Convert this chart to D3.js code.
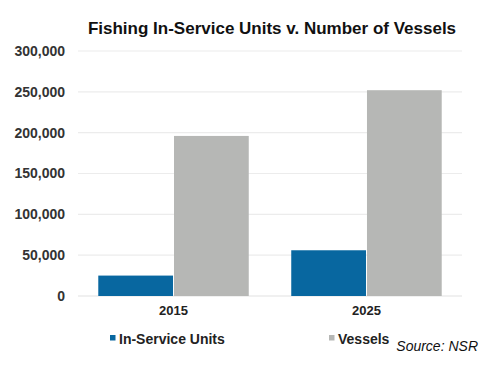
<!DOCTYPE html>
<html>
<head>
<meta charset="utf-8">
<script src="https://cdn.jsdelivr.net/npm/d3@7"></script>
<style>
  body { margin: 0; background: #fff; }
  text { font-family: "Liberation Sans", Arial, sans-serif; }
</style>
</head>
<body>
<div id="chart"></div>
<script>
// chart data
const years = ['2015', '2025'];
const seriesNames = ['In-Service Units', 'Vessels'];
const inServiceUnits = [25000, 56000];
const vessels = [196000, 252000];
const yTicks = [0, 50000, 100000, 150000, 200000, 250000, 300000];

const colors = ['#0867a0', '#b6b7b5'];
const width = 504, height = 369;
const margin = {top: 51, right: 42, bottom: 73, left: 78};

const rows = years.map((y, i) => ({year: y, values: [inServiceUnits[i], vessels[i]]}));

const svg = d3.select('#chart')
    .append('svg')
    .attr('width', width)
    .attr('height', height);

let x0 = d3.scaleBand()
    .domain(years)
    .range([margin.left, width - margin.right])
    .paddingInner(0.21)
    .paddingOuter(0.1);

let x1 = d3.scaleBand()
    .domain(seriesNames)
    .range([0, x0.bandwidth()])
    .padding(0.013);

let y = d3.scaleLinear()
    .domain([0, 300000])
    .range([height - margin.bottom, margin.top]);

// gridlines
svg.append('g')
    .selectAll('line')
    .data(yTicks)
    .enter()
    .append('line')
    .attr('x1', margin.left)
    .attr('x2', width - margin.right)
    .attr('y1', d => y(d))
    .attr('y2', d => y(d))
    .attr('stroke', (d) => d === 0 ? '#e2e2e2' : '#ececec')
    .attr('stroke-width', 1.2);

// y axis labels
let yAxis = svg.append('g')
    .attr('transform', 'translate(' + margin.left + ',0)')
    .call(d3.axisLeft(y).tickValues(yTicks).tickFormat(d3.format(',')).tickSize(0).tickPadding(13));
yAxis.select('.domain').remove();
yAxis.selectAll('text')
    .style('font-size', '14px')
    .style('font-weight', 'bold')
    .attr('fill', '#333');

// bars
let group = svg.selectAll('g.year')
    .data(rows)
    .enter()
    .append('g')
    .attr('class', 'year')
    .attr('transform', d => 'translate(' + x0(d.year) + ',0)');

group.selectAll('rect')
    .data(d => d.values.map((v, i) => ({name: seriesNames[i], value: v, i: i})))
    .enter()
    .append('rect')
    .attr('x', d => x1(d.name))
    .attr('width', x1.bandwidth())
    .attr('y', d => y(d.value))
    .attr('height', d => y(0) - y(d.value))
    .attr('fill', d => colors[d.i]);

// x axis labels
let xAxis = svg.append('g')
    .attr('transform', 'translate(0,' + y(0) + ')')
    .call(d3.axisBottom(x0).tickSize(0).tickPadding(10));
xAxis.select('.domain').remove();
xAxis.selectAll('text')
    .style('font-size', '13px')
    .style('font-weight', 'bold')
    .attr('fill', '#222');

// title
svg.append('text')
    .attr('x', 272)
    .attr('y', 34)
    .attr('text-anchor', 'middle')
    .style('font-size', '17px')
    .style('font-weight', 'bold')
    .attr('fill', '#111')
    .text('Fishing In-Service Units v. Number of Vessels');

// legend
let legendX = [110, 329];
let legend = svg.selectAll('g.legend')
    .data(seriesNames)
    .enter()
    .append('g')
    .attr('class', 'legend')
    .attr('transform', (d, i) => 'translate(' + legendX[i] + ',335)');

legend.append('rect')
    .attr('width', 5.5)
    .attr('height', 5.5)
    .attr('fill', (d, i) => colors[i]);

legend.append('text')
    .attr('x', 9)
    .attr('y', 8.5)
    .style('font-size', '14px')
    .style('font-weight', 'bold')
    .attr('fill', '#222')
    .text(d => d);

// source note
svg.append('text')
    .attr('x', 478)
    .attr('y', 351)
    .attr('text-anchor', 'end')
    .style('font-size', '14px')
    .style('font-style', 'italic')
    .attr('fill', '#111')
    .text('Source: NSR');
</script>
</body>
</html>
